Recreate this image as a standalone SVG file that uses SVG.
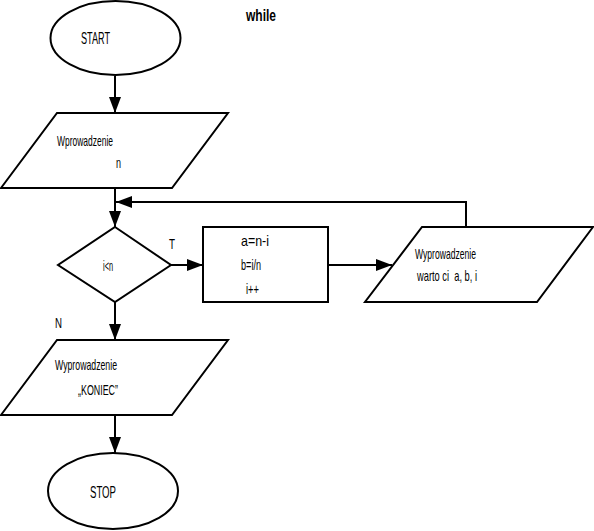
<svg xmlns="http://www.w3.org/2000/svg" width="594" height="531" viewBox="0 0 594 531">
<defs>
<marker id="ah" markerUnits="userSpaceOnUse" markerWidth="16" markerHeight="12" refX="16" refY="6" orient="auto">
<path d="M0,0 L16,6 L0,12 z" fill="#000"/>
</marker>
<style>
.s{fill:#fff;stroke:#000;stroke-width:2}
.c{fill:none;stroke:#000;stroke-width:2;marker-end:url(#ah)}
.t{font-family:"Liberation Sans",Arial,sans-serif;font-size:15px;fill:#000;white-space:pre}
.b{font-family:"Liberation Sans",Arial,sans-serif;font-size:16px;fill:#000}
</style>
</defs>
<rect width="594" height="531" fill="#fff"/>
<text class="b" x="246" y="21" font-size="21" font-weight="bold" textLength="30" lengthAdjust="spacingAndGlyphs">while</text>
<g id="connectors">
<path class="c" d="M115,76 L115,113"/>
<path class="c" d="M115,188 L115,227"/>
<path class="c" d="M466,227 L466,202 L116,202"/>
<path class="c" d="M171,265 L203,265"/>
<path class="c" d="M328,265 L392,265"/>
<path class="c" d="M115,302 L115,340"/>
<path class="c" d="M115,415 L115,453"/>
</g>
<g id="start">
<ellipse class="s" cx="115.5" cy="38" rx="65" ry="37"/>
<text class="b" x="81" y="44" textLength="29" lengthAdjust="spacingAndGlyphs">START</text>
</g>
<g id="input">
<polygon class="s" points="57,113 228,113 172,188 1,188"/>
<text class="t" x="57" y="146" textLength="56" lengthAdjust="spacingAndGlyphs">Wprowadzenie</text>
<text class="t" x="116" y="168" textLength="5" lengthAdjust="spacingAndGlyphs">n</text>
</g>
<g id="decision">
<polygon class="s" points="115,227 171,265 115,302 58,265"/>
<text class="t" x="103" y="271" textLength="10" lengthAdjust="spacingAndGlyphs">i&lt;n</text>
<text class="t" x="169" y="249" textLength="6" lengthAdjust="spacingAndGlyphs">T</text>
<text class="t" x="55" y="328" textLength="7" lengthAdjust="spacingAndGlyphs">N</text>
</g>
<g id="process">
<rect class="s" x="203" y="227" width="125" height="75"/>
<text class="t" x="241" y="246" textLength="28" lengthAdjust="spacingAndGlyphs">a=n-i</text>
<text class="t" x="241" y="270" textLength="20" lengthAdjust="spacingAndGlyphs">b=i/n</text>
<text class="t" x="246" y="294" textLength="13" lengthAdjust="spacingAndGlyphs">i++</text>
</g>
<g id="output1">
<polygon class="s" points="422,227 593,227 537,302 365,302"/>
<text class="t" x="415" y="259" textLength="61" lengthAdjust="spacingAndGlyphs">Wyprowadzenie</text>
<text class="t" x="417" y="281" textLength="60" lengthAdjust="spacingAndGlyphs">warto ci  a, b, i</text>
</g>
<g id="output2">
<polygon class="s" points="57,340 228,340 172,415 1,415"/>
<text class="t" x="55" y="370" textLength="62" lengthAdjust="spacingAndGlyphs">Wyprowadzenie</text>
<text class="t" x="78" y="395" textLength="40" lengthAdjust="spacingAndGlyphs">„KONIEC”</text>
</g>
<g id="stop">
<ellipse class="s" cx="113" cy="491" rx="65" ry="38"/>
<text class="b" x="90" y="498" textLength="26" lengthAdjust="spacingAndGlyphs">STOP</text>
</g>
</svg>
